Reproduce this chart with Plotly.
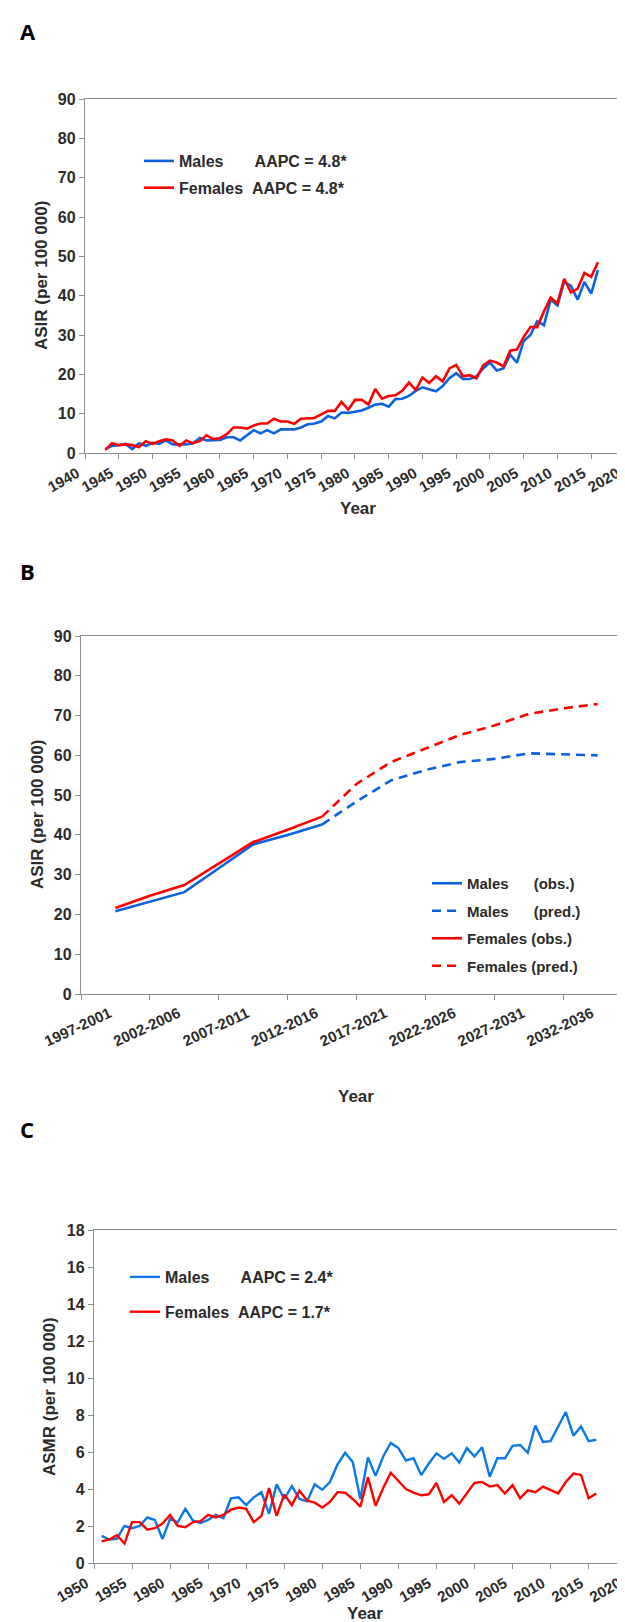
import plotly.graph_objects as go

W, H = 625, 1622
FONT = "Liberation Sans"
TXT = "#2b2b2b"
AXC = "#8f8f8f"
RED = "#ff0000"
BLUE_AB = "#0a62e0"
BLUE_C = "#0b78e3"
NB = "\u00a0"

# ---------------- Panel A data (ASIR, annual) ----------------
years_a = list(range(1943, 2017))
males_a = [1.0, 1.8, 2.0, 2.3, 1.0, 2.5, 1.8, 2.6, 2.3, 3.2,
           2.2, 2.2, 2.2, 2.5, 3.8, 3.2, 3.2, 3.3, 4.0, 4.0,
           3.2, 4.5, 5.8, 5.0, 5.8, 5.0, 6.0, 6.0, 6.0, 6.5,
           7.3, 7.5, 8.0, 9.4, 8.8, 10.3, 10.2, 10.5, 10.8, 11.5,
           12.3, 12.5, 11.8, 13.7, 13.8, 14.5, 15.8, 16.7, 16.2, 15.7,
           17.0, 19.0, 20.3, 18.8, 18.8, 19.5, 21.5, 23.0, 21.0, 21.5,
           25.0, 23.0, 28.5, 30.0, 33.5, 32.5, 39.0, 37.5, 43.5, 42.5,
           39.0, 43.5, 40.5, 46.5]
females_a = [0.8, 2.5, 2.0, 2.2, 2.0, 1.5, 3.0, 2.3, 3.0, 3.5,
             3.2, 1.8, 3.2, 2.5, 3.0, 4.5, 3.5, 3.8, 4.8, 6.5,
             6.5, 6.2, 7.0, 7.5, 7.5, 8.7, 8.0, 8.0, 7.4, 8.7,
             8.8, 8.9, 9.8, 10.7, 10.7, 13.0, 11.0, 13.5, 13.5, 12.3,
             16.3, 13.8, 14.5, 14.7, 15.8, 17.9, 16.0, 19.2, 17.8, 19.5,
             18.2, 21.5, 22.4, 19.5, 19.8, 19.0, 22.3, 23.5, 23.0, 22.0,
             26.0, 26.3, 29.5, 32.0, 32.0, 36.0, 39.5, 38.0, 44.3, 40.8,
             41.8, 45.8, 44.8, 48.5]
ticks_a = list(range(1940, 2021, 5))

# ---------------- Panel B data (ASIR by 5-year period) ----------------
periods_b = ["1997-2001", "2002-2006", "2007-2011", "2012-2016",
             "2017-2021", "2022-2026", "2027-2031", "2032-2036"]
period_mid_b = [1999, 2004, 2009, 2014, 2019, 2024, 2029, 2034]
period_edges_b = [1996.5, 2001.5, 2006.5, 2011.5, 2016.5, 2021.5, 2026.5, 2031.5, 2036.5]
years_obs_b = [1999, 2001.5, 2004, 2006.5, 2009, 2011.5, 2014]
males_obs_b = [20.8, 23.2, 25.6, 31.6, 37.6, 40.0, 42.6]
females_obs_b = [21.6, 24.7, 27.4, 32.9, 38.2, 41.3, 44.6]
years_pred_b = [2014, 2016.5, 2019, 2021.5, 2024, 2026.5, 2029, 2031.5, 2034]
males_pred_b = [42.6, 48.4, 53.7, 56.3, 58.3, 59.1, 60.5, 60.3, 60.0]
females_pred_b = [44.6, 52.8, 58.3, 61.8, 65.1, 67.5, 70.4, 71.8, 72.9]

# ---------------- Panel C data (ASMR, annual) ----------------
years_c = list(range(1951, 2017))
males_c = [1.47, 1.27, 1.3, 2.0, 1.88, 2.0, 2.46, 2.33, 1.3, 2.38,
           2.2, 2.93, 2.3, 2.16, 2.33, 2.6, 2.43, 3.5, 3.55, 3.13,
           3.55, 3.83, 2.66, 4.25, 3.46, 4.16, 3.46, 3.33, 4.25, 3.96,
           4.38, 5.33, 5.96, 5.46, 3.46, 5.71, 4.71, 5.76, 6.49, 6.21,
           5.54, 5.66, 4.75, 5.38, 5.93, 5.63, 5.93, 5.43, 6.21, 5.76,
           6.26, 4.66, 5.66, 5.66, 6.33, 6.38, 5.96, 7.43, 6.54, 6.59,
           7.38, 8.16, 6.88, 7.38, 6.59, 6.66]
females_c = [1.17, 1.27, 1.5, 1.05, 2.21, 2.21, 1.8, 1.88, 2.13, 2.6,
             2.0, 1.93, 2.21, 2.26, 2.6, 2.46, 2.6, 2.88, 3.0, 2.93,
             2.21, 2.55, 4.05, 2.55, 3.71, 3.13, 3.91, 3.38, 3.26, 3.0,
             3.3, 3.83, 3.8, 3.46, 3.05, 4.63, 3.1, 4.05, 4.88, 4.46,
             4.0, 3.8, 3.66, 3.71, 4.33, 3.3, 3.66, 3.21, 3.76, 4.33,
             4.38, 4.13, 4.21, 3.76, 4.21, 3.5, 3.93, 3.83, 4.13, 3.96,
             3.76, 4.38, 4.83, 4.76, 3.5, 3.76]
ticks_c = list(range(1950, 2021, 5))


def px_x(p):
    return p / W


def px_y(p):
    return 1 - p / H


fig = go.Figure()

# Panel A
fig.add_trace(go.Scatter(x=years_a, y=males_a, mode="lines", xaxis="x", yaxis="y",
                         line=dict(color=BLUE_AB, width=2.6),
                         name="Males" + NB * 7 + "AAPC = 4.8*", legend="legend", legendgroup="a1"))
fig.add_trace(go.Scatter(x=years_a, y=females_a, mode="lines", xaxis="x", yaxis="y",
                         line=dict(color=RED, width=2.6),
                         name="Females" + NB * 2 + "AAPC = 4.8*", legend="legend", legendgroup="a2"))

# Panel B
fig.add_trace(go.Scatter(x=years_obs_b, y=males_obs_b, mode="lines", xaxis="x2", yaxis="y2",
                         line=dict(color=BLUE_AB, width=2.6),
                         name="Males" + NB * 6 + "(obs.)", legend="legend2", legendgroup="b1"))
fig.add_trace(go.Scatter(x=years_pred_b, y=males_pred_b, mode="lines", xaxis="x2", yaxis="y2",
                         line=dict(color=BLUE_AB, width=2.6, dash="9px,6px"),
                         name="Males" + NB * 6 + "(pred.)", legend="legend2", legendgroup="b2"))
fig.add_trace(go.Scatter(x=years_obs_b, y=females_obs_b, mode="lines", xaxis="x2", yaxis="y2",
                         line=dict(color=RED, width=2.6),
                         name="Females" + NB + "(obs.)", legend="legend2", legendgroup="b3"))
fig.add_trace(go.Scatter(x=years_pred_b, y=females_pred_b, mode="lines", xaxis="x2", yaxis="y2",
                         line=dict(color=RED, width=2.6, dash="9px,6px"),
                         name="Females" + NB + "(pred.)", legend="legend2", legendgroup="b4"))

# Panel C
fig.add_trace(go.Scatter(x=years_c, y=males_c, mode="lines", xaxis="x3", yaxis="y3",
                         line=dict(color=BLUE_C, width=2.4),
                         name="Males" + NB * 7 + "AAPC = 2.4*", legend="legend3", legendgroup="c1"))
fig.add_trace(go.Scatter(x=years_c, y=females_c, mode="lines", xaxis="x3", yaxis="y3",
                         line=dict(color=RED, width=2.4),
                         name="Females" + NB * 2 + "AAPC = 1.7*", legend="legend3", legendgroup="c2"))

tickfont_y = dict(family=FONT, size=16, color=TXT, weight="bold")
tickfont_x = dict(family=FONT, size=15, color=TXT, weight="bold")
common = dict(showline=True, linecolor=AXC, linewidth=1.3, mirror=True, ticks="outside",
              ticklen=5, tickcolor=AXC, tickwidth=1.2, showgrid=False, zeroline=False,
              fixedrange=True, automargin=False)

leg_font = dict(family=FONT, size=16, color=TXT, weight="bold")

fig.update_layout(
    template="none",
    width=W, height=H, margin=dict(l=0, r=0, t=0, b=0, autoexpand=False),
    paper_bgcolor="white", plot_bgcolor="white",
    xaxis=dict(domain=[px_x(77), px_x(623)], range=[1940, 2020.9], anchor="y",
               tickvals=ticks_a, tickangle=-30, tickfont=tickfont_x, ticklabelshift=-8,
               **common),
    yaxis=dict(domain=[px_y(445), px_y(91)], range=[0, 90], dtick=10, anchor="x",
               tickfont=tickfont_y, **common),
    xaxis2=dict(domain=[px_x(73), px_x(624)], range=[1996.5, 2036.5], anchor="y2",
                tickvals=period_mid_b, ticktext=periods_b, tickangle=-25, tickfont=tickfont_x,
                ticklabelshift=-6, ticklabelstandoff=4,
                showline=True, linecolor=AXC, linewidth=1.3, mirror=True, ticks="",
                showgrid=False, zeroline=False, fixedrange=True, automargin=False,
                minor=dict(tickmode="array", tickvals=period_edges_b, ticks="outside",
                           ticklen=5, tickcolor=AXC, tickwidth=1.2, showgrid=False)),
    yaxis2=dict(domain=[px_y(986), px_y(628)], range=[0, 90], dtick=10, anchor="x2",
                tickfont=tickfont_y, **common),
    xaxis3=dict(domain=[px_x(86), px_x(624)], range=[1950, 2020.7], anchor="y3",
                tickvals=ticks_c, tickangle=-30, tickfont=tickfont_x, ticklabelshift=-8,
                **common),
    yaxis3=dict(domain=[px_y(1555), px_y(1222)], range=[0, 18], dtick=2, anchor="x3",
                tickfont=tickfont_y, **common),
    legend=dict(x=px_x(131), y=px_y(136), xanchor="left", yanchor="top", font=leg_font,
                bgcolor="rgba(0,0,0,0)", traceorder="grouped", tracegroupgap=3,
                itemwidth=30, borderwidth=0),
    legend2=dict(x=px_x(419), y=px_y(859), xanchor="left", yanchor="top",
                 font=dict(family=FONT, size=15, color=TXT, weight="bold"),
                 bgcolor="rgba(0,0,0,0)", traceorder="grouped", tracegroupgap=5,
                 itemwidth=30, borderwidth=0),
    legend3=dict(x=px_x(117), y=px_y(1252), xanchor="left", yanchor="top", font=leg_font,
                 bgcolor="rgba(0,0,0,0)", traceorder="grouped", tracegroupgap=11,
                 itemwidth=30, borderwidth=0),
    showlegend=True,
)

ann = []
letter_font = dict(family="Open Sans", size=22, color="black", weight="bold")
for txt, yy in [("A", 23), ("B", 563), ("C", 1121)]:
    ann.append(dict(text=txt, x=px_x(10), y=px_y(yy), xref="paper", yref="paper",
                    xanchor="left", yanchor="middle", showarrow=False, font=letter_font))
title_font = dict(family=FONT, size=17, color=TXT, weight="bold")
for txt, xx, yy in [("ASIR (per 100 000)", 33, 268), ("ASIR (per 100 000)", 29, 807),
                    ("ASMR (per 100 000)", 41, 1389)]:
    ann.append(dict(text=txt, x=px_x(xx), y=px_y(yy), xref="paper", yref="paper",
                    xanchor="center", yanchor="middle", textangle=-90, showarrow=False,
                    font=title_font))
for xx, yy in [(350, 500), (348, 1088), (357, 1605)]:
    ann.append(dict(text="Year", x=px_x(xx), y=px_y(yy), xref="paper", yref="paper",
                    xanchor="center", yanchor="middle", showarrow=False, font=title_font))
fig.update_layout(annotations=ann)

fig.write_html("out.html")
